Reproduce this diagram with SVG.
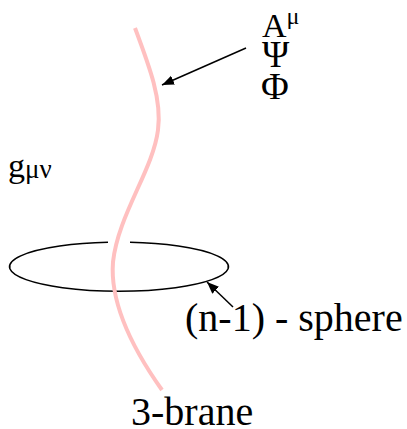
<svg xmlns="http://www.w3.org/2000/svg" width="407" height="429" viewBox="0 0 407 429">
<defs>
<style>
text{font-family:'Liberation Serif','Times New Roman',serif;fill:#000}
.ln{fill:none;stroke:#000;stroke-width:1.5}
</style>
<marker id="ah" viewBox="0 0 10 10" refX="10" refY="5" markerWidth="12" markerHeight="12" markerUnits="userSpaceOnUse" orient="auto">
<path d="M0,1 L10,5 L0,9 z" fill="#000"/>
</marker>
</defs>
<g id="sphere">
<path class="ln" d="M108,242.3 A109.5,24.5 0 1 0 130,242.3"/>
</g>
<g id="brane">
<path d="M135,28 C150,68 162,100 158,130 C153,170 118,215 113,262 C110,300 130,345 162,390" fill="none" stroke="#ffc0c0" stroke-width="4"/>
</g>
<g id="connectors">
<line class="ln" x1="246" y1="48" x2="162" y2="85" marker-end="url(#ah)"/>
<line class="ln" x1="233" y1="307" x2="207" y2="282" marker-end="url(#ah)"/>
</g>
<g id="fields">
<text x="262" y="37" font-size="34">A<tspan font-size="24" dy="-13">μ</tspan></text>
<text x="262" y="67" font-size="37">Ψ</text>
<text x="261" y="99" font-size="38">Φ</text>
</g>
<g id="metric">
<text x="8" y="177" font-size="34">g<tspan font-size="27" dy="1">μν</tspan></text>
</g>
<g id="sphere-label">
<text x="185" y="331" font-size="40">(n-1) - sphere</text>
</g>
<g id="brane-label">
<text x="131" y="425" font-size="40">3-brane</text>
</g>
</svg>
